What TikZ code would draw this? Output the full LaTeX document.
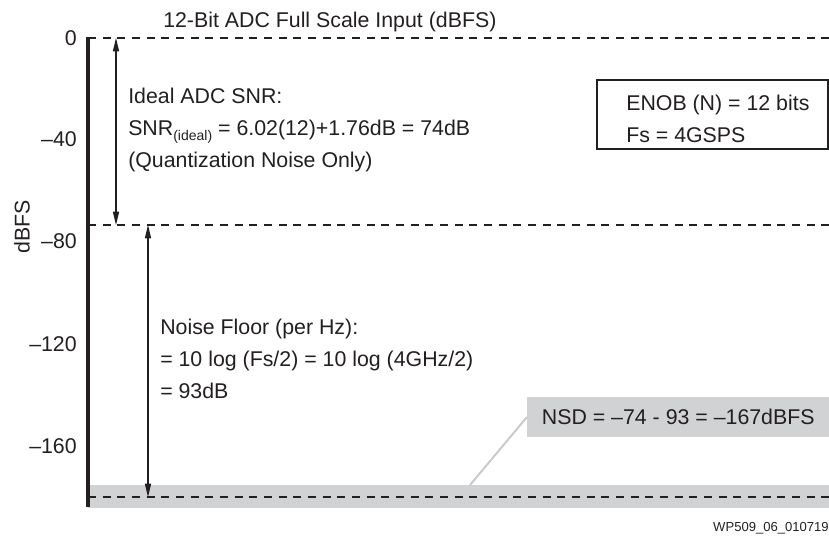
\documentclass[tikz,border=0pt]{standalone}
\usepackage{fontspec}
\setmainfont{Liberation Sans}
\usetikzlibrary{arrows.meta}
\definecolor{bandgray}{HTML}{D1D2D4}
\definecolor{leadgray}{HTML}{C9CACC}
\definecolor{ink}{HTML}{231F20}
\begin{document}
\begin{tikzpicture}[x=0.75pt,y=-0.75pt,
  lbl/.style={font=\fontsize{16}{19}\selectfont, inner sep=0pt, text=ink},
  small/.style={font=\fontsize{9.8}{11}\selectfont, inner sep=0pt, text=ink},
  dashline/.style={draw=ink, line width=0.8pt, dash pattern=on 6pt off 5pt},
  dimarrow/.style={draw=ink, line width=0.9pt, {Triangle[length=10pt,width=4.6pt]}-{Triangle[length=10pt,width=4.6pt]}},
  axisline/.style={draw=ink, line width=2.3pt},
 ]
\useasboundingbox (0,0) rectangle (829,544);
% noise floor band
\fill[bandgray] (88,485) rectangle (829,508);
% level coordinates
\coordinate (L0w) at (88,38);   \coordinate (L0e) at (829,38);
\coordinate (L1w) at (88,225);  \coordinate (L1e) at (829,225);
\coordinate (L2w) at (88,497);  \coordinate (L2e) at (829,497);
\coordinate (axtop) at (88,37); \coordinate (axbot) at (88,507);
% dashed levels
\draw[dashline] (L0w) -- (L0e);
\draw[dashline] (L1w) -- (L1e);
\draw[dashline] (L2w) -- (L2e);
% axis
\draw[axisline] (axtop) -- (axbot);
% title
\node[lbl, anchor=base west] (title) at (163,27) {12-Bit ADC Full Scale Input (dBFS)};
% tick labels
\node[lbl, anchor=east] (t0) at (77,38) {0};
\node[lbl, anchor=east] (t40) at (77,139) {–40};
\node[lbl, anchor=east] (t80) at (77,241) {–80};
\node[lbl, anchor=east] (t120) at (77,344) {–120};
\node[lbl, anchor=east] (t160) at (77,446) {–160};
\node[lbl, rotate=90] (ylab) at (22,227) {dBFS};
% dimension arrows
\coordinate (a1t) at (116,38);  \coordinate (a1b) at (116,225);
\coordinate (a2t) at (148,225); \coordinate (a2b) at (148,497);
\draw[dimarrow] (a1t) -- (a1b);
\draw[dimarrow] (a2t) -- (a2b);
% SNR text
\node[lbl, anchor=base west] (s1) at (128,103) {Ideal ADC SNR:};
\node[lbl, anchor=base west] (s2) at (128,135) {SNR\raisebox{-3.8pt}{\fontsize{10.5}{10.5}\selectfont (ideal)} = 6.02(12)+1.76dB = 74dB};
\node[lbl, anchor=base west] (s3) at (128,167) {(Quantization Noise Only)};
% Noise floor text
\node[lbl, anchor=base west] (n1) at (160,334) {Noise Floor (per Hz):};
\node[lbl, anchor=base west] (n2) at (160,366) {= 10 log (Fs/2) = 10 log (4GHz/2)};
\node[lbl, anchor=base west] (n3) at (160,398) {= 93dB};
% ENOB box
\draw[draw=ink, line width=1.5pt] (597,80) rectangle (828.2,149);
\node[lbl, anchor=base west] (e1) at (626,110) {ENOB (N) = 12 bits};
\node[lbl, anchor=base west] (e2) at (626,142) {Fs = 4GSPS};
% NSD callout
\node[lbl, fill=bandgray, anchor=west, minimum height=30pt, minimum width=226.5pt, inner xsep=10pt] (nsd) at (527,417) {NSD = –74 - 93 = –167dBFS};
\coordinate (lead) at (470,485);
\draw[leadgray, line width=1.5pt] (nsd.west) -- (lead);
% figure id
\node[small, anchor=base east] (fid) at (829,531) {WP509\_06\_010719};
\end{tikzpicture}
\end{document}
